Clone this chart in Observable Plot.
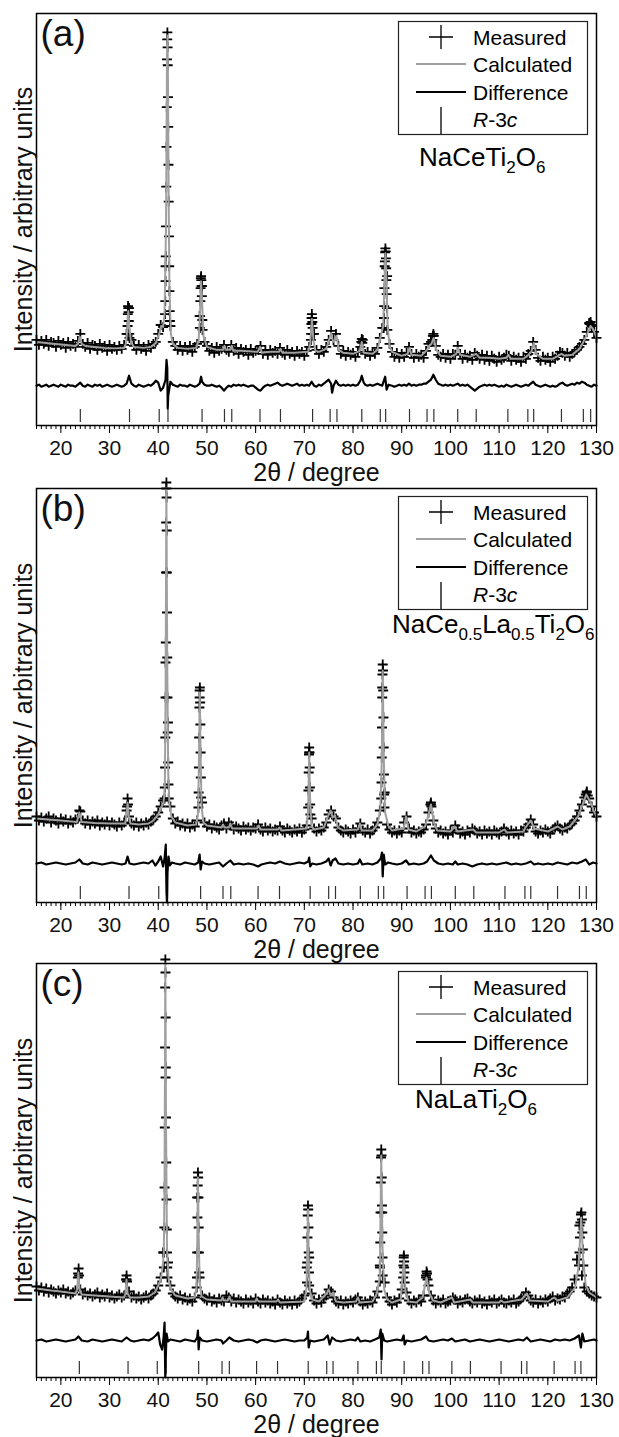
<!DOCTYPE html>
<html><head><meta charset="utf-8">
<script src="https://cdn.jsdelivr.net/npm/d3@7"></script>
<script src="https://cdn.jsdelivr.net/npm/@observablehq/plot@0.6"></script>
<style>
body{margin:0;background:#fff;font-family:"Liberation Sans",Arial,sans-serif;}
#wrap{width:619px;}
#wrap svg{display:block;overflow:visible;background:transparent;}
</style></head><body><div id="wrap"></div><script>
// ---------- shared axis values ----------
const xDomain = [15, 130];
const majorTicks = [20, 30, 40, 50, 60, 70, 80, 90, 100, 110, 120, 130];
const minorTicks = d3.range(15, 131, 1);
const scanStart = 15, scanStep = 0.5; // measured scan grid
const xLabel = "2θ / degree";
const yLabel = "Intensity / arbitrary units";
const legendLabels = ["Measured", "Calculated", "Difference", "R-3c"];

// ---------- panel (a) NaCeTi2O6 ----------
const reflA = [24.0, 34.1, 40.2, 42.0, 49.0, 53.6, 55.1, 60.9, 65.1, 71.7, 75.3, 76.7, 81.8, 85.6, 86.7, 91.6, 95.2, 96.6, 101.5, 105.3, 111.8, 115.9, 117.1, 122.8, 127.3, 128.8];
const calcA = [[15,84],[17,83],[19,82],[21,81],[23,80],[23.5,82],[23.9,89],[24.3,82],[25,80],[27,79],[29,78],[31,77.5],[33,78],[33.4,83],[33.65,98],[33.85,115],[34.05,100],[34.4,84],[35,79],[37,78],[38.5,79],[39.5,83],[40.2,92],[40.6,100],[41.0,99],[41.3,112],[41.6,200],[41.8,370],[41.9,392],[42.0,345],[42.15,225],[42.3,135],[42.6,92],[43,82],[44,78],[46,77],[47.8,78],[48.3,86],[48.6,115],[48.8,145],[49.0,125],[49.3,90],[50,79],[52,76],[53.3,76],[53.6,80],[53.9,76],[54.8,76],[55.1,80],[55.4,75],[57,75],[60.4,74],[60.9,79],[61.3,73],[63,74],[64.8,74],[65.1,77],[65.5,73],[68,73],[70.8,74],[71.2,82],[71.55,107],[71.9,84],[72.3,75],[73,74],[74.5,77],[75.2,88],[75.5,93],[75.9,84],[76.2,85],[76.6,90],[77.1,76],[78,73],[80,72],[81.4,75],[81.8,84],[82.2,73],[84,72],[85.0,76],[85.6,88],[86.2,100],[86.45,145],[86.65,173],[86.85,150],[87.1,100],[87.5,80],[88,74],[90,70],[91.2,72],[91.6,78],[92,71],[94,70],[95.2,76],[95.6,80],[96.1,82],[96.55,88],[97.1,76],[98,70],[100,69],[101.2,72],[101.55,78],[102,71],[104,69],[105.3,72],[106,68],[108,68],[110,67],[111.5,68],[111.9,71],[112.4,67],[115,67],[115.8,70],[116.6,74],[117.15,83],[117.6,72],[119,67],[121,67],[122.8,72],[123.5,70],[125,71],[126.5,77],[127.3,84],[128,91],[128.8,100],[129.4,96],[130,88]];
const measGridA = [86,81,85,82,86,80,84,83,79,85, 81,83,78,84,80,82,79,85,92,82, 79,83,77,81,80,76,82,78,80,75, 81,77,79,76,80,77,81,92,118,86, 80,76,81,77,79,75,81,78,82,84, 92,101,99,160,330,100,84,80,76,80, 75,79,76,80,74,79,82,110,140,84, 80,75,78,73,79,75,77,81,76,74, 81,75,78,72,77,74,76,71,77,73, 75,76,80,72,76,71,76,73,75,72, 78,73,71,76,72,74,70,75,72,74, 70,75,79,108,92,76,72,76,74,79, 86,95,86,92,80,72,75,70,74,71, 73,69,74,79,86,72,74,70,74,72, 78,88,98,160,150,82,74,69,73,68, 72,69,73,79,72,68,72,69,71,68, 75,82,84,92,80,71,69,72,68,71, 67,72,71,80,72,67,71,68,70,66, 73,70,67,71,66,70,65,70,67,64, 69,66,68,71,70,65,69,66,68,64, 69,67,72,75,84,76,68,65,69,66, 68,64,69,67,70,74,73,70,73,69, 72,74,76,79,82,86,94,103,100,94, 88];
const measPeaksA = [[41.4,112],[41.45,125],[41.5,145],[41.55,170],[41.6,200],[41.65,240],[41.7,280],[41.75,320],[41.8,368],[41.85,388],[41.88,395],[41.92,380],[41.95,362],[42.05,300],[42.1,262],[42.15,225],[42.2,190],[42.25,160],[42.3,135],[42.35,115],[42.4,105],
[33.65,92],[33.7,100],[33.75,112],[33.8,120],[33.85,118],[33.9,114],[33.95,105],[34.05,92],[34.1,88],
[48.55,98],[48.6,110],[48.65,125],[48.7,138],[48.75,148],[48.8,150],[48.85,146],[48.9,140],[48.95,130],[49.05,106],[49.1,96],
[71.35,86],[71.4,92],[71.45,102],[71.55,112],[71.6,108],[71.65,104],[71.7,98],[71.75,92],
[86.3,98],[86.35,108],[86.4,120],[86.45,138],[86.55,165],[86.6,174],[86.65,178],[86.7,175],[86.75,168],[86.8,158],[86.85,146],[86.9,132],[86.95,118],[87.05,96],
[96.3,86],[96.4,90],[96.6,90],[81.7,84],[81.8,87],[81.9,83],[128.6,102],[128.8,104],[129.0,101]];
const diffA = [[15,40],[15.5,41],[16,39],[16.5,40],[17,41],[17.5,39],[18,40],[18.5,41],[19,40],[19.5,39],[20,41],[20.5,40],[21,39],[21.5,41],[22,40],[22.5,40],[23,39],[23.5,41],[24,43],[24.5,40],[25,39],[25.5,41],[26,40],[26.5,39],[27,41],[27.5,40],[28,41],[28.5,39],[29,40],[29.5,41],[30,40],[30.5,39],[31,40],[31.5,41],[32,40],[32.5,39],[33,40],[33.5,42],[34,50],[34.5,42],[35,40],[35.5,39],[36,41],[36.5,40],[37,39],[37.5,40],[38,41],[38.5,40],[39,42],[39.5,45],[40,43],[40.5,35],[41,38],[41.5,46],[41.7,66],[41.85,58],[41.95,17],[42.05,30],[42.5,44],[43,41],[43.5,40],[44,39],[44.5,41],[45,40],[45.5,40],[46,39],[46.5,41],[47,40],[47.5,39],[48,40],[48.5,42],[48.8,49],[49,44],[49.5,41],[50,40],[50.5,40],[51,41],[51.5,40],[52,39],[52.5,40],[53,38],[53.5,35],[54,38],[54.5,40],[55,39],[55.5,41],[56,40],[56.5,41],[57,40],[57.5,41],[58,40],[58.5,39],[59,40],[59.5,40],[60,38],[60.5,36],[61,35],[61.5,38],[62,40],[62.5,41],[63,40],[63.5,41],[64,42],[64.5,43],[65,41],[65.5,40],[66,41],[66.5,42],[67,41],[67.5,40],[68,41],[68.5,42],[69,40],[69.5,41],[70,40],[70.5,41],[71,40],[71.5,44],[72,40],[72.5,39],[73,41],[73.5,40],[74,42],[74.5,44],[75,46],[75.5,42],[75.7,33],[76,40],[76.5,45],[77,41],[77.5,40],[78,41],[78.5,40],[79,41],[79.5,40],[80,41],[80.5,40],[81,41],[81.5,45],[81.8,50],[82.2,43],[82.5,41],[83,40],[83.5,41],[84,40],[84.5,41],[85,42],[85.5,41],[86,40],[86.6,49],[86.9,36],[87.3,41],[88,40],[88.5,39],[89,40],[89.5,41],[90,40],[90.5,41],[91,40],[91.5,42],[92,40],[92.5,41],[93,40],[93.5,41],[94,41],[94.5,42],[95,42],[95.5,44],[96,46],[96.5,51],[97,46],[97.5,42],[98,41],[98.5,40],[99,41],[99.5,40],[100,41],[100.5,40],[101,41],[101.5,42],[102,40],[102.5,41],[103,40],[103.5,41],[104,39],[104.5,37],[105,35],[105.5,37],[106,39],[106.5,40],[107,41],[107.5,40],[108,41],[108.5,40],[109,41],[109.5,40],[110,39],[110.5,40],[111,39],[111.5,41],[112,40],[112.5,39],[113,40],[113.5,41],[114,40],[114.5,39],[115,40],[115.5,41],[116,40],[116.5,42],[117,44],[117.5,41],[118,40],[118.5,39],[119,40],[119.5,41],[120,40],[120.5,39],[121,40],[121.5,39],[122,40],[122.5,42],[123,43],[123.5,41],[124,40],[124.5,41],[125,42],[125.5,41],[126,43],[126.5,42],[127,44],[127.5,43],[128,41],[128.5,40],[129,39],[129.5,41],[130,40]];

// ---------- panel (b) NaCe0.5La0.5Ti2O6 ----------
const reflB = [24.0, 34.0, 40.1, 41.9, 48.7, 53.3, 54.9, 60.5, 64.9, 71.2, 75.0, 76.4, 81.5, 85.2, 86.3, 91.1, 94.8, 96.1, 101.0, 104.8, 111.2, 115.3, 116.5, 122.0, 126.5, 127.9];
const calcB = [[15,84],[20,82],[23.3,80.5],[23.8,90],[24.3,80.5],[27,79.5],[30,79],[33.2,79],[33.45,86],[33.7,100],[33.95,86],[34.3,79],[36,78],[38,79],[39,82],[40,88],[40.6,95],[41.1,100],[41.35,115],[41.5,200],[41.67,414],[41.85,240],[42.05,130],[42.3,98],[42.7,86],[43.5,80],[46,77],[47.8,78],[48.2,90],[48.35,140],[48.53,210],[48.7,150],[48.9,95],[49.3,80],[50,77],[53,75],[53.3,78],[53.6,75],[54.5,75],[54.8,79],[55.2,74],[58,74],[60.3,74],[60.6,77],[61,73],[64.6,73],[64.9,75],[65.3,72],[68,73],[70.5,74],[70.8,95],[71.0,150],[71.2,100],[71.5,76],[72,73],[74,75],[75.0,88],[75.4,92],[75.8,85],[76.3,87],[76.9,75],[78,72],[81.0,73],[81.4,79],[81.8,72],[84,72],[85,78],[85.6,92],[85.9,140],[86.1,232],[86.3,150],[86.6,90],[87.2,77],[88,72],[90.4,74],[90.9,86],[91.4,73],[93,71],[94.8,76],[95.4,86],[96.0,98],[96.6,80],[97.3,72],[100,71],[100.9,76],[101.4,71],[104.7,73],[105.3,70],[110,70],[111.1,73],[111.6,70],[115,71],[115.4,75],[116.5,82],[117.2,74],[120,71],[122,76],[123,73],[124.5,76],[126.2,86],[127,96],[127.9,108],[128.8,100],[129.5,91],[130,86]];
const measGridB = [86,82,85,81,84,86,80,84,82,79, 84,81,83,79,82,80,83,84,91,82, 79,82,78,81,79,82,77,80,78,81, 77,80,78,76,80,77,80,92,86,79, 77,80,76,79,77,80,78,81,83,86, 90,96,102,240,180,96,84,79,81,77, 79,76,79,75,78,76,82,205,100,80, 76,78,74,77,75,73,77,79,74,80, 77,73,76,74,72,76,73,75,72,75, 74,78,73,71,75,72,74,71,73,72, 76,72,70,74,72,70,73,71,74,70, 73,77,150,84,74,71,74,72,75,80, 88,92,86,84,75,72,70,73,71,69, 73,70,74,79,72,70,73,69,72,75, 80,92,215,110,78,73,70,72,69,72, 70,80,86,74,70,72,69,71,70,73, 78,90,98,82,74,70,72,69,71,68, 72,70,77,73,69,71,68,72,70,74, 72,69,71,68,72,69,71,68,72,70, 68,71,74,71,68,72,69,71,68,72, 71,75,78,83,78,71,69,72,70,73, 71,69,73,75,77,74,72,75,74,77, 79,82,86,92,98,105,110,104,96,90, 86];
const measPeaksB = [[41.3,104],[41.35,115],[41.4,135],[41.45,165],[41.5,205],[41.55,260],[41.6,330],[41.63,380],[41.66,414],[41.68,420],[41.71,405],[41.74,372],[41.77,330],[41.8,290],[41.85,245],[41.9,205],[41.95,170],[42.05,140],[42.1,118],[42.15,104],
[48.25,95],[48.3,110],[48.35,135],[48.4,165],[48.45,195],[48.5,212],[48.55,215],[48.6,200],[48.65,178],[48.7,150],[48.75,125],[48.8,105],
[70.8,95],[70.85,112],[70.9,130],[70.95,148],[71.0,155],[71.05,150],[71.1,135],[71.15,115],[71.2,98],[71.25,88],
[85.8,104],[85.85,120],[85.9,145],[85.95,175],[86.0,205],[86.05,228],[86.1,238],[86.15,232],[86.2,212],[86.25,185],[86.3,155],[86.35,128],[86.4,108],[86.45,95],
[33.6,96],[33.7,104],[33.8,98],[95.9,98],[96.0,100],[96.1,96],[127.8,108],[128.0,111],[128.2,107],[23.8,92]];
const diffB = [[15,39],[16,40],[17,38],[18,39],[19,40],[20,39],[21,38],[22,39],[23,40],[23.8,43],[24.5,39],[25.5,38],[26.5,40],[27.5,39],[28.5,38],[29.5,39],[30.5,40],[31.5,39],[32.5,38],[33.3,39],[33.7,46],[34.1,39],[35,38],[36,39],[37,40],[38,39],[38.8,42],[39.4,37],[40,41],[40.5,46],[41,36],[41.3,44],[41.55,58],[41.7,10],[41.8,0],[41.9,30],[42.1,46],[42.4,37],[42.8,40],[43.5,39],[44.5,38],[45.5,40],[46.5,39],[47.5,38],[48.2,40],[48.5,48],[48.7,33],[49,41],[49.5,39],[50.5,38],[51.5,39],[52.5,40],[53.3,36],[54,39],[54.8,42],[55.5,38],[56.5,39],[57.5,38],[58.5,39],[59.5,38],[60.5,36],[61.2,38],[62,39],[63,40],[64,39],[65,41],[66,39],[67,38],[68,39],[69,40],[70,39],[70.8,41],[71.0,45],[71.2,36],[71.6,39],[72.5,38],[73.5,39],[74.5,41],[75,44],[75.4,37],[75.8,42],[76.4,44],[77,39],[78,38],[79,39],[80,38],[81,39],[81.4,43],[81.9,38],[83,39],[84,38],[85,40],[85.7,44],[85.95,50],[86.1,26],[86.3,48],[86.6,38],[87.2,40],[88,39],[89,38],[90,39],[90.9,42],[91.5,38],[92.5,39],[93.5,38],[94.5,39],[95.2,41],[96,47],[96.6,42],[97.5,39],[98.5,38],[99.5,39],[100.5,38],[101,41],[101.5,38],[102.5,39],[103.5,38],[104.5,36],[105.5,38],[106.5,39],[107.5,38],[108.5,39],[109.5,38],[110.5,39],[111.5,40],[112.5,38],[113.5,39],[114.5,38],[115.5,39],[116.5,41],[117.2,38],[118,39],[119,38],[120,39],[121,38],[122,40],[123,39],[124,38],[125,40],[126,39],[127,41],[127.8,43],[128.5,38],[129.3,40],[130,39]];

// ---------- panel (c) NaLaTi2O6 ----------
const reflC = [23.8, 33.8, 39.8, 41.6, 48.3, 53.1, 54.6, 60.2, 64.5, 70.8, 74.6, 75.9, 81.0, 84.8, 85.8, 90.5, 94.3, 95.6, 100.3, 104.1, 110.4, 114.6, 115.7, 121.3, 125.6, 126.8];
const calcC = [[15,89],[18,87],[20,86],[23,84],[23.35,88],[23.6,105],[23.85,88],[24.3,83],[27,82],[30,81],[33,80],[33.25,84],[33.48,98],[33.7,84],[34.2,80],[36,80],[38,81],[39.3,85],[40,92],[40.5,98],[40.9,110],[41.15,125],[41.3,200],[41.46,414],[41.6,250],[41.8,130],[42.1,100],[42.5,89],[43.5,82],[46,79],[47.5,80],[47.85,90],[48.0,130],[48.15,200],[48.3,145],[48.5,95],[48.9,81],[50,78],[53,77],[53.2,80],[53.5,77],[54.3,77],[54.6,81],[55,76],[60,76],[60.2,79],[60.6,76],[64.3,76],[64.6,78],[65,75],[70,76],[70.45,90],[70.6,130],[70.75,168],[70.9,120],[71.1,88],[71.6,78],[73,76],[74.6,84],[75.0,88],[75.4,82],[75.9,85],[76.5,76],[78,75],[80.6,76],[81.0,80],[81.4,75],[84,76],[84.9,84],[85.5,100],[85.8,222],[86.05,130],[86.4,88],[87,78],[88,75],[89.8,78],[90.45,118],[90.8,85],[91.4,76],[93,75],[94.3,80],[95.1,100],[95.7,84],[96.4,77],[98,75],[100.3,80],[100.8,75],[104.1,78],[104.6,75],[110,75],[110.4,77],[111,75],[114.6,78],[115.7,84],[116.3,77],[120,76],[121.3,80],[122,77],[124,80],[125.6,90],[126.3,110],[126.85,160],[127.3,115],[127.8,92],[128.5,85],[130,80]];
const measGridC = [91,87,90,86,89,85,88,86,84,87, 85,88,84,86,83,85,87,100,88,83, 85,82,84,81,83,85,80,83,81,84, 80,82,79,81,83,80,82,98,86,80, 82,79,81,78,80,82,79,82,84,87, 92,100,125,300,115,92,84,81,79,82, 78,80,77,79,76,80,180,100,82,79, 77,80,76,78,75,79,77,76,82,80, 76,79,75,78,76,74,78,75,77,74, 79,76,74,78,75,77,74,76,73,78, 75,73,77,74,76,73,77,74,76,79, 82,110,120,84,77,74,78,75,79,82, 88,86,80,76,74,77,73,76,74,77, 75,78,80,76,73,76,74,77,75,80, 86,112,165,95,80,76,73,77,75,79, 88,110,85,77,74,77,75,78,76,82, 100,92,82,77,74,77,75,78,74,76, 77,80,78,74,77,75,78,79,76,74, 77,75,78,74,76,73,77,75,78,74, 76,78,75,74,77,75,78,74,76,79, 81,85,82,77,75,78,74,77,75,78, 76,79,81,77,79,78,81,80,84,86, 90,98,118,152,102,90,86,84,82,81, 80];
const measPeaksC = [[41.15,110],[41.2,125],[41.25,150],[41.3,190],[41.35,250],[41.4,330],[41.43,390],[41.46,418],[41.49,405],[41.52,360],[41.55,310],[41.6,260],[41.65,215],[41.7,178],[41.75,148],[41.8,125],[41.85,110],[41.9,100],
[47.9,90],[47.95,100],[48.0,125],[48.05,160],[48.1,192],[48.15,205],[48.2,200],[48.25,180],[48.3,150],[48.35,125],[48.4,105],
[70.55,95],[70.6,115],[70.65,140],[70.7,162],[70.75,172],[70.8,168],[70.85,150],[70.9,125],[70.95,105],[71.0,92],
[85.5,96],[85.55,110],[85.6,135],[85.65,165],[85.7,195],[85.75,220],[85.8,228],[85.85,222],[85.9,200],[85.95,172],[86.0,145],[86.05,120],[86.1,102],
[90.3,100],[90.35,112],[90.4,120],[90.45,122],[90.5,116],[90.55,105],[90.6,95],
[95.0,102],[95.1,106],[95.2,104],[95.3,98],
[126.4,112],[126.5,125],[126.6,140],[126.7,155],[126.8,163],[126.9,165],[127.0,158],[127.1,145],[127.2,128],[127.3,112],
[23.55,104],[23.65,109],[23.75,102],[33.4,98],[33.5,102],[33.6,96]];
const diffC = [[15,37],[16,38],[17,36],[18,37],[19,38],[20,37],[21,36],[22,37],[23,38],[23.6,41],[24.3,37],[25.5,36],[26.5,38],[27.5,37],[28.5,36],[29.5,37],[30.5,38],[31.5,37],[32.5,36],[33.5,40],[34.3,37],[35,36],[36,37],[37,38],[38,37],[38.8,39],[39.5,42],[40,45],[40.4,33],[40.8,28],[41.1,40],[41.3,55],[41.45,0],[41.55,20],[41.7,44],[42,36],[42.5,38],[43.5,37],[44.5,36],[45.5,38],[46.5,37],[47.5,36],[48,40],[48.15,47],[48.3,28],[48.5,40],[49,37],[50,36],[51,37],[52,38],[53,37],[53.3,34],[54,37],[54.6,40],[55.5,37],[56.5,36],[57.5,37],[58.5,38],[59.5,37],[60.3,35],[61,37],[62,38],[63,37],[64,36],[65,37],[66,38],[67,37],[68,36],[69,37],[70,37],[70.6,40],[70.75,46],[70.9,30],[71.2,37],[72,36],[73,37],[74,38],[74.8,42],[75.2,33],[75.7,40],[76.5,37],[77.5,36],[78.5,37],[79.5,38],[80.5,37],[81,40],[81.5,36],[82.5,37],[83.5,36],[84.5,38],[85.4,40],[85.7,48],[85.85,18],[86,44],[86.4,37],[87,36],[88,37],[89,38],[90,37],[90.4,42],[90.6,33],[91,37],[92,36],[93,37],[94,38],[95,41],[95.5,37],[96.5,36],[97.5,37],[98.5,38],[99.5,37],[100.3,39],[101,36],[102,37],[103,38],[104,36],[105,37],[106,38],[107,37],[108,36],[109,37],[110,38],[111,37],[112,36],[113,37],[114,38],[115,37],[115.7,40],[116.5,36],[117.5,37],[118.5,38],[119.5,37],[120.5,36],[121.5,38],[122.5,37],[123.5,38],[124.5,37],[125.5,39],[126.4,42],[126.8,30],[127.1,44],[127.5,36],[128.5,37],[129.5,38],[130,37]];

// ---------- drawing ----------
const font = "'Liberation Sans', Arial, sans-serif";
function panel(o) {
  const meas = o.measGrid.map((v, i) => [scanStart + i * scanStep, v]).concat(o.measPeaks);
  const svg = Plot.plot({
    width: 619, height: o.height,
    marginLeft: 36, marginRight: 23, marginTop: 13, marginBottom: o.mb,
    style: {fontFamily: font, fontSize: "21px", color: "#111", background: "transparent", overflow: "visible"},
    x: {domain: xDomain},
    y: {domain: [0, 414], axis: null},
    marks: [
      Plot.ruleX(o.refl, {x: d => d, y1: 3, y2: 16, stroke: "#333", strokeWidth: 1.2}),
      Plot.dot(meas, {x: d => d[0], y: d => d[1], symbol: "plus", r: 3.3, stroke: "#000", strokeWidth: 1.8}),
      Plot.line(o.calc, {x: d => d[0], y: d => d[1], stroke: "#a0a0a0", strokeWidth: 2}),
      Plot.line(o.diff, {x: d => d[0], y: d => d[1], stroke: "#000", strokeWidth: 2.2}),
      Plot.axisX({ticks: minorTicks, tickSize: 4, text: null, stroke: "#000"}),
      Plot.axisX({ticks: majorTicks, tickSize: 8, tickPadding: 7, fontSize: 21, stroke: "#000", label: null}),
      Plot.frame({stroke: "#000", strokeWidth: 1.5}),
      Plot.text([xLabel], {frameAnchor: "bottom", dy: 47, text: d => d, fontSize: 25, lineAnchor: "middle", textAnchor: "middle"}),
      Plot.text([yLabel], {frameAnchor: "left", dx: -13, rotate: -90, text: d => d, fontSize: 25, lineAnchor: "middle", textAnchor: "middle"}),
      Plot.text([o.tag], {frameAnchor: "top-left", dx: 4, dy: 6, text: d => d, fontSize: 37, textAnchor: "start", lineAnchor: "top"})
    ]
  });
  const g = d3.select(svg).append("g").attr("font-family", font).attr("fill", "#000").attr("text-anchor", "start");
  const top = 13;
  g.append("rect").attr("x", 398.5).attr("y", top + 8.5).attr("width", 189).attr("height", 113)
    .attr("fill", "#fff").attr("stroke", "#222").attr("stroke-width", 1.2);
  const rows = [top + 24, top + 51, top + 79, top + 106];
  g.append("path").attr("d", `M429,${rows[0]}H453M441,${rows[0] - 12}V${rows[0] + 12}`).attr("stroke", "#000").attr("stroke-width", 1.3);
  g.append("line").attr("x1", 416).attr("x2", 466).attr("y1", rows[1]).attr("y2", rows[1]).attr("stroke", "#a0a0a0").attr("stroke-width", 2);
  g.append("line").attr("x1", 416).attr("x2", 466).attr("y1", rows[2]).attr("y2", rows[2]).attr("stroke", "#000").attr("stroke-width", 2);
  g.append("line").attr("x1", 441).attr("x2", 441).attr("y1", rows[3] - 12).attr("y2", top + 121).attr("stroke", "#000").attr("stroke-width", 1.3);
  legendLabels.forEach((t, i) => {
    const el = g.append("text").attr("x", 473).attr("y", rows[i]).attr("dy", "0.36em").attr("font-size", 21);
    if (t === "R-3c") {
      el.append("tspan").attr("font-style", "italic").text("R");
      el.append("tspan").text("-3");
      el.append("tspan").attr("font-style", "italic").text("c");
    } else el.text(t);
  });
  const ct = g.append("text").attr("x", o.compX).attr("y", top + o.compY).attr("font-size", 26);
  let wasSub = false;
  o.comp.forEach(([t, sub]) => {
    ct.append("tspan").attr("font-size", sub ? 17 : 26)
      .attr("dy", sub ? (wasSub ? 0 : 7) : (wasSub ? -7 : 0)).text(t);
    wasSub = !!sub;
  });
  document.getElementById("wrap").appendChild(svg);
}

panel({height: 475, mb: 50, tag: "(a)", refl: reflA, calc: calcA, measGrid: measGridA, measPeaks: measPeaksA, diff: diffA,
  comp: [["NaCeTi", 0], ["2", 1], ["O", 0], ["6", 1]], compX: 419, compY: 153});
panel({height: 475, mb: 48, tag: "(b)", refl: reflB, calc: calcB, measGrid: measGridB, measPeaks: measPeaksB, diff: diffB,
  comp: [["NaCe", 0], ["0.5", 1], ["La", 0], ["0.5", 1], ["Ti", 0], ["2", 1], ["O", 0], ["6", 1]], compX: 392, compY: 145});
panel({height: 487, mb: 60, tag: "(c)", refl: reflC, calc: calcC, measGrid: measGridC, measPeaks: measPeaksC, diff: diffC,
  comp: [["NaLaTi", 0], ["2", 1], ["O", 0], ["6", 1]], compX: 415, compY: 145});
</script></body></html>
